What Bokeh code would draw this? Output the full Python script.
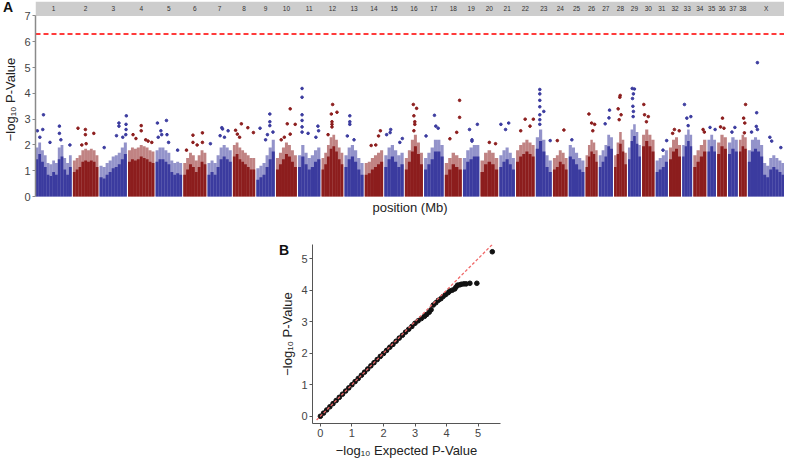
from bokeh.plotting import figure
from bokeh.layouts import column, row
from bokeh.models import Spacer, FixedTicker, ColumnDataSource, Range1d, Div
from bokeh.embed import file_html
from bokeh.resources import INLINE
from bokeh.core.properties import value

# ---------------- data ----------------
chrom_names = [str(i) for i in range(1, 39)] + ["X"]
chrom_len_mb = [125.6, 88.4, 94.7, 91.5, 92.0, 80.0, 84.0, 77.3, 64.0, 72.5,
                77.4, 75.5, 66.2, 63.9, 67.2, 62.7, 67.8, 58.9, 56.8, 61.3,
                54.0, 64.4, 55.4, 50.7, 54.3, 42.0, 48.9, 44.2, 44.8, 43.2,
                42.3, 41.5, 34.6, 45.1, 29.5, 33.8, 33.9, 26.9, 126.9]

# upper edge of the dense SNP band, read along each chromosome (-log10 p)
band_top = [
    [1.9, 2.1, 1.8, 1.6, 1.3, 1.25, 1.4, 1.3, 1.9, 2.0, 1.5, 1.3, 1.6],
    [1.4, 1.5, 1.6, 1.8, 1.85, 1.8, 1.85, 1.8, 1.6],
    [1.2, 1.15, 1.3, 1.4, 1.55, 1.6, 1.7, 1.9, 2.1],
    [1.8, 1.9, 1.85, 1.9, 2.0, 1.95, 1.9, 1.8, 1.75],
    [1.8, 1.9, 1.9, 1.8, 1.7, 1.4, 1.3, 1.35, 1.3],
    [1.3, 1.5, 1.7, 1.6, 1.4, 1.6, 1.8, 1.7],
    [1.3, 1.4, 1.3, 1.6, 1.9, 2.0, 1.9, 1.8],
    [2.0, 2.1, 1.9, 1.8, 1.7, 1.6, 1.5, 1.5],
    [1.1, 1.2, 1.3, 1.6, 1.9, 2.2],
    [1.5, 1.7, 1.9, 2.1, 2.0, 1.8, 1.6],
    [1.6, 2.0, 1.7, 1.5, 1.6, 1.8, 1.9],
    [1.5, 1.7, 2.0, 2.3, 2.4, 2.2, 1.9, 1.7],
    [1.6, 1.9, 2.0, 1.8, 1.5, 1.3],
    [1.3, 1.35, 1.5, 1.6, 1.7, 1.8],
    [1.6, 1.9, 2.0, 1.8, 1.6, 1.7],
    [1.5, 1.8, 2.2, 2.4, 2.1, 1.7],
    [1.5, 1.7, 1.9, 2.2, 2.2, 2.0],
    [1.3, 1.5, 1.7, 1.6, 1.5],
    [1.5, 1.8, 1.9, 2.0, 2.0],
    [1.4, 1.7, 1.8, 1.7, 1.5],
    [1.6, 1.8, 1.9, 1.7, 1.5],
    [1.8, 2.0, 2.1, 2.2, 2.1, 2.0],
    [2.3, 2.6, 2.2, 1.6, 1.4],
    [1.5, 1.6, 1.8, 1.7, 1.5],
    [2.0, 1.9, 1.7, 1.5, 1.4],
    [1.6, 2.0, 2.2, 2.1, 1.8],
    [1.6, 1.8, 2.0, 2.4, 2.3],
    [1.6, 2.1, 2.5, 2.2, 1.7],
    [1.9, 2.6, 2.8, 2.5, 2.0],
    [2.4, 2.6, 2.4, 2.2],
    [1.4, 1.5, 1.6, 1.8],
    [1.9, 2.2, 2.3, 2.0],
    [2.0, 2.4, 2.6, 2.4],
    [1.6, 1.8, 2.0, 2.2],
    [2.2, 2.4, 2.2],
    [2.1, 2.4, 2.3],
    [2.1, 2.3, 2.2],
    [2.2, 2.4, 2.3],
    [1.8, 2.2, 2.3, 2.2, 2.0, 1.3, 1.2, 1.5, 1.6, 1.5, 1.4, 1.3],
]

# stand-out SNPs above the band: relative position along chromosome, -log10 p
top_snp_pos = [
    [0.22, 0.05, 0.2, 0.66, 0.66, 0.4, 0.95, 0.12, 0.7],
    [0.2, 0.49, 0.49, 0.82, 0.52, 0.35],
    [0.98, 0.71, 0.71, 0.17, 0.62, 0.97, 0.97, 0.96, 0.85],
    [0.5, 0.5, 0.19, 0.67, 0.76, 0.9, 0.3],
    [0.07, 0.41, 0.2, 0.23, 0.43, 0.49, 0.83, 0.1],
    [0.42, 0.83, 0.42, 0.14, 0.83, 0.6],
    [0.59, 0.62, 0.85, 0.12, 0.52, 0.7],
    [0.38, 0.12, 0.67, 0.92, 0.2, 0.3],
    [0.2, 0.73, 0.73, 0.73, 0.6, 0.5, 0.9],
    [0.68, 0.54, 0.92, 0.25, 0.68, 0.4],
    [0.18, 0.18, 0.18, 0.18, 0.18, 0.18, 0.45, 0.89, 0.92, 0.8],
    [0.51, 0.71, 0.45, 0.48, 0.48, 0.48, 0.3],
    [0.28, 0.28, 0.28, 0.15, 0.5],
    [0.85, 0.75, 0.35, 0.6],
    [0.33, 0.3, 0.12, 0.93, 0.8],
    [0.47, 0.65, 0.5, 0.55, 0.55, 0.5],
    [0.53, 0.6, 0.72, 0.1],
    [0.87, 0.87, 0.7, 0.3],
    [0.88, 0.4, 0.55, 0.55],
    [0.5, 0.85],
    [0.1, 0.6, 0.4],
    [0.49, 0.93, 0.25, 0.75],
    [0.25, 0.25, 0.25, 0.25, 0.25, 0.25, 0.25, 0.5, 0.9],
    [0.75, 0.3],
    [0.2],
    [0.28, 0.5, 0.75, 0.6],
    [0.76, 0.72, 0.45],
    [0.48, 0.45, 0.32, 0.55, 0.4],
    [0.33, 0.5, 0.42, 0.35, 0.38, 0.42, 0.4],
    [0.14, 0.2, 0.5, 0.35],
    [0.9, 0.6],
    [0.45, 0.85, 0.3],
    [0.23, 0.47, 0.87, 0.6],
    [0.75, 0.85],
    [0.3, 0.9],
    [0.55, 0.35, 0.7],
    [0.7, 0.4],
    [0.85, 0.6, 0.75, 0.7],
    [0.26, 0.24, 0.23, 0.26, 0.1, 0.6, 0.65, 0.9],
]
top_snp_val = [
    [3.17, 2.55, 2.6, 2.73, 2.45, 2.1, 2.0, 2.3, 2.2],
    [2.65, 2.6, 2.4, 2.45, 2.05, 2.0],
    [3.13, 2.85, 2.73, 1.9, 2.36, 2.8, 2.6, 2.4, 2.3],
    [2.75, 2.55, 2.4, 2.2, 2.15, 2.1, 2.25],
    [2.85, 2.95, 2.55, 2.4, 2.4, 2.1, 1.8, 2.3],
    [2.38, 2.47, 2.1, 1.8, 2.1, 2.0],
    [2.67, 2.62, 2.55, 2.05, 2.36, 2.3],
    [2.82, 2.57, 2.67, 2.48, 2.42, 2.3],
    [2.65, 3.2, 2.9, 2.75, 2.4, 2.2, 2.5],
    [3.4, 2.82, 2.8, 2.2, 2.42, 2.3],
    [4.19, 3.85, 3.17, 2.95, 2.7, 2.5, 2.45, 2.73, 2.55, 2.3],
    [3.57, 3.27, 3.2, 2.9, 2.8, 2.7, 2.4],
    [3.13, 2.9, 2.8, 2.35, 2.2],
    [2.55, 2.35, 1.98, 2.0],
    [2.6, 2.48, 2.4, 2.25, 2.1],
    [3.57, 3.42, 3.13, 2.9, 2.8, 2.55],
    [3.15, 2.73, 2.65, 2.35],
    [3.73, 3.07, 2.49, 2.24],
    [2.8, 2.6, 2.2, 2.15],
    [2.1, 2.05],
    [2.8, 2.85, 2.6],
    [3.0, 3.0, 2.55, 2.73],
    [4.15, 3.98, 3.73, 3.48, 3.17, 2.98, 2.8, 3.3, 2.17],
    [2.58, 2.17],
    [2.2],
    [3.2, 2.85, 2.8, 2.55],
    [3.35, 3.05, 2.82],
    [3.92, 3.85, 3.4, 3.17, 2.98],
    [4.19, 4.17, 3.98, 3.8, 3.5, 3.3, 3.1],
    [3.57, 3.17, 3.1, 2.9],
    [2.17, 1.8],
    [2.6, 2.55, 2.45],
    [3.57, 3.04, 3.1, 2.75],
    [2.6, 2.5],
    [2.68, 2.6],
    [3.04, 2.7, 2.65],
    [2.68, 2.5],
    [3.57, 3.04, 2.85, 2.47],
    [5.19, 3.25, 2.72, 2.6, 2.5, 2.3, 2.15, 1.9],
]

threshold = 6.3

qq_expected = [0.0, 0.1, 0.2, 0.3, 0.4, 0.5, 0.6, 0.7, 0.8, 0.9, 1.0, 1.1, 1.2,
               1.3, 1.4, 1.5, 1.6, 1.7, 1.8, 1.9, 2.0, 2.1, 2.2, 2.3, 2.4, 2.5,
               2.6, 2.7, 2.8, 2.9, 3.0, 3.1, 3.2, 3.3, 3.37, 3.45, 3.51, 3.58,
               3.66, 3.74, 3.82, 3.89, 3.97, 4.05, 4.1, 4.18, 4.26, 4.3, 4.35,
               4.42, 4.47, 4.55, 4.62, 4.74, 4.96, 5.45]
qq_observed = [0.0, 0.1, 0.2, 0.3, 0.4, 0.5, 0.6, 0.7, 0.8, 0.9, 1.0, 1.1, 1.2,
               1.3, 1.4, 1.5, 1.6, 1.7, 1.8, 1.9, 1.99, 2.09, 2.19, 2.28, 2.38,
               2.48, 2.57, 2.67, 2.76, 2.85, 2.95, 3.03, 3.1, 3.17, 3.23, 3.3,
               3.38, 3.53, 3.6, 3.68, 3.73, 3.8, 3.86, 3.92, 3.97, 4.0, 4.04,
               4.1, 4.16, 4.17, 4.19, 4.2, 4.2, 4.22, 4.22, 5.22]

# ---------------- styling ----------------
BLUE = "#3b3b9f"
RED = "#8c1d1d"
STRIP = "#cdcdcd"
FONT = "Liberation Sans"
GAP = 4.0

# chromosome layout along the genome axis
starts = []
pos = 0.0
for L in chrom_len_mb:
    starts.append(pos)
    pos += L + GAP
total = pos - GAP

bx, bw, btop, bcol = [], [], [], []
px, py, pcol = [], [], []
lab_x = []
for i, L in enumerate(chrom_len_mb):
    col = BLUE if i % 2 == 0 else RED
    s = starts[i]
    n = len(band_top[i])
    for j, v in enumerate(band_top[i]):
        bx.append(s + (j + 0.5) * L / n)
        bw.append(L / n)
        btop.append(v)
        bcol.append(col)
    for f, v in zip(top_snp_pos[i], top_snp_val[i]):
        px.append(s + f * L)
        py.append(v)
        pcol.append(col)
    lab_x.append(s + L / 2)

# ---------------- panel A ----------------
pA = figure(width=784, height=218, output_backend="svg", toolbar_location=None,
            x_range=Range1d(0, total), y_range=Range1d(-0.035, 7.56),
            min_border_left=32, min_border_right=0, min_border_top=1,
            min_border_bottom=21)
pA.outline_line_color = None
pA.grid.visible = False

pA.quad(left=[0], right=[total], bottom=[7.0], top=[7.56],
        fill_color=STRIP, line_color=None)
pA.text(x=lab_x, y=[7.28] * len(lab_x), text=chrom_names,
        text_font=value(FONT), text_font_size="6.5px", text_color="#333333",
        text_align="center", text_baseline="middle")

band_src = ColumnDataSource(dict(x=bx, w=bw, top=btop, c=bcol))
pA.vbar(x="x", width="w", top="top", bottom=0, fill_color="c",
        line_color=None, fill_alpha=0.55, source=band_src)
core_top = [max(v - 0.45, 0.0) for v in btop]
core_src = ColumnDataSource(dict(x=bx, w=bw, top=core_top, c=bcol))
pA.vbar(x="x", width="w", top="top", bottom=0, fill_color="c",
        line_color=None, source=core_src)
pA.scatter(x=px, y=py, color=pcol, size=2.6, marker="circle")

pA.line(x=[0, total], y=[threshold, threshold], line_color="#ff3b3b",
        line_width=1.8, line_dash="5 3")

ya = pA.yaxis[0]
ya.bounds = (0, 7)
ya.ticker = FixedTicker(ticks=[0, 1, 2, 3, 4, 5, 6, 7])
ya.axis_line_color = "#8a8a8a"
ya.axis_line_width = 1.5
ya.major_tick_line_color = "#8a8a8a"
ya.major_tick_in = 0
ya.major_tick_out = 3
ya.minor_tick_line_color = None
ya.major_label_text_font = FONT
ya.major_label_text_font_size = "11px"
ya.major_label_text_color = "#444444"
ya.major_label_standoff = 2
ya.axis_label = "−log₁₀ P-Value"
ya.axis_label_text_font = FONT
ya.axis_label_text_font_size = "13px"
ya.axis_label_text_font_style = "normal"
ya.axis_label_text_color = "#222222"
ya.axis_label_standoff = 3

xa = pA.xaxis[0]
xa.ticker = FixedTicker(ticks=[])
xa.axis_line_color = None
xa.major_tick_line_color = None
xa.minor_tick_line_color = None
xa.major_label_text_font_size = "0px"
xa.major_label_standoff = 0
xa.axis_label = "position (Mb)"
xa.axis_label_text_font = FONT
xa.axis_label_text_font_size = "13px"
xa.axis_label_text_font_style = "normal"
xa.axis_label_text_color = "#222222"
xa.axis_label_standoff = 2

# ---------------- panel B ----------------
pB = figure(width=240, height=242, output_backend="svg", toolbar_location=None,
            x_range=Range1d(-0.25, 5.71), y_range=Range1d(-0.23, 5.45),
            min_border_left=40, min_border_right=12, min_border_top=26,
            min_border_bottom=33)
pB.outline_line_color = None
pB.grid.visible = False

pB.scatter(x=qq_expected, y=qq_observed, color="#111111", size=4.6,
           marker="circle")
pB.line(x=[-0.12, 5.5], y=[-0.12, 5.5], line_color="#f06a6a", line_width=1.3,
        line_dash="3 2")

for ax in (pB.xaxis[0], pB.yaxis[0]):
    ax.ticker = FixedTicker(ticks=[0, 1, 2, 3, 4, 5])
    ax.axis_line_color = "#555555"
    ax.major_tick_line_color = "#555555"
    ax.major_tick_in = 0
    ax.major_tick_out = 3
    ax.minor_tick_line_color = None
    ax.major_label_text_font = FONT
    ax.major_label_text_font_size = "11px"
    ax.major_label_text_color = "#444444"
    ax.major_label_standoff = 2
    ax.axis_label_text_font = FONT
    ax.axis_label_text_font_size = "13px"
    ax.axis_label_text_font_style = "normal"
    ax.axis_label_text_color = "#222222"
    ax.axis_label_standoff = 3
pB.yaxis[0].axis_label = "−log₁₀ P-Value"
pB.xaxis[0].axis_label = "−log₁₀ Expected P-Value"

# ---------------- panel letters (overlaid, out of the layout flow) ----------
LETTER_CSS = {"position": "absolute", "z-index": "20",
              "font-family": "'Liberation Sans', Arial, sans-serif",
              "font-weight": "bold", "font-size": "14px",
              "line-height": "14px", "color": "#111111",
              "overflow": "visible", "pointer-events": "none"}
divA = Div(text="<b>A</b>", width=14, height=14,
           styles=dict(LETTER_CSS, **{"margin-left": "3px",
                                      "margin-top": "0px"}))
divB = Div(text="<b>B</b>", width=14, height=14,
           styles=dict(LETTER_CSS, **{"margin-left": "279px",
                                      "margin-top": "25px"}))

layout = column(
    divA,
    pA,
    row(divB, Spacer(width=272, height=242), pB),
)
open("out.html", "w").write(file_html(layout, INLINE))
